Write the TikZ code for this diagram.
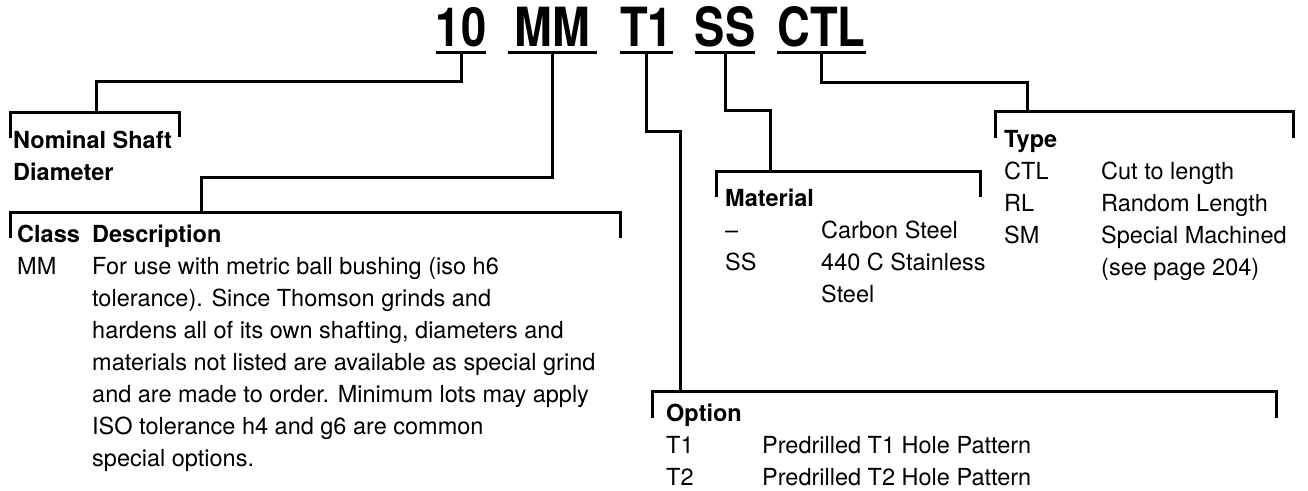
\documentclass[tikz,border=0pt]{standalone}
\usepackage{fontspec}
\setmainfont{TeX Gyre Heros}
\newfontfamily\titlefam[FakeStretch=0.84]{TeX Gyre Heros}
\usepackage{tikz}

\newcommand\bodyfont{\fontsize{23.5}{32}\selectfont}
\newcommand\titlefont{\titlefam\bfseries\fontsize{54}{60}\selectfont}

\tikzset{
	ttl/.style={anchor=south, inner xsep=0pt, inner ysep=5pt, font=\titlefont},
	lbl/.style={anchor=base west, inner sep=0pt, font=\bodyfont},
	brk/.style={line width=3pt, black}
}

\begin{document}
\begin{tikzpicture}[x=1pt,y=-1pt]
	\useasboundingbox (0,0) rectangle (1308,490);

	% part number
	\node [name=t10, ttl, minimum width=46] at (461,52) {10};
	\node [name=tMM, ttl, minimum width=89] at (552.5,52) {MM};
	\node [name=tT1, ttl, minimum width=49] at (646.5,52) {T1};
	\node [name=tSS, ttl, minimum width=58] at (725,52) {SS};
	\node [name=tCTL, ttl, minimum width=87] at (821.5,52) {CTL};

	\draw [brk] (t10.south west) -- (t10.south east);
	\draw [brk] (tMM.south west) -- (tMM.south east);
	\draw [brk] (tT1.south west) -- (tT1.south east);
	\draw [brk] (tSS.south west) -- (tSS.south east);
	\draw [brk] (tCTL.south west) -- (tCTL.south east);

	% bracket tops
	\coordinate (nomtop) at (96,112);
	\coordinate (classtop) at (201,212);
	\coordinate (opttop) at (680,391);
	\coordinate (mattop) at (770,171);
	\coordinate (typetop) at (1027,111);

	\draw [brk] (10,138) |- (179,112) -- (179,137);
	\draw [brk] (10,238) |- (620,212) -- (620,238);
	\draw [brk] (652,418) |- (1276,391) -- (1276,418);
	\draw [brk] (716,197) |- (980,171) -- (980,197);
	\draw [brk] (995,138) |- (1293,111) -- (1293,138);

	\draw [brk] (t10.south) -- ++(0,29) -| (nomtop);
	\draw [brk] (tMM.south) -- ++(0,125) -| (classtop);
	\draw [brk] (tT1.south) -- ++(0,79) -| (opttop);
	\draw [brk] (tSS.south) -- ++(0,58) -| (mattop);
	\draw [brk] (tCTL.south) -- ++(0,30) -| (typetop);

	% texts
	\node [name=nominal, lbl] at (13,148) {\begin{tabular}[t]{@{}l@{}}
		\textbf{Nominal Shaft}\\
		\textbf{Diameter}
	\end{tabular}};

	\node [name=classtab, lbl] at (17,242) {\begin{tabular}[t]{@{}p{75pt}@{}l@{}}
		\textbf{Class} & \textbf{Description}\\
		MM & For use with metric ball bushing (iso h6\\
		& tolerance). Since Thomson grinds and\\
		& hardens all of its own shafting, diameters and\\
		& materials not listed are available as special grind\\
		& and are made to order. Minimum lots may apply\\
		& ISO tolerance h4 and g6 are common\\
		& special options.
	\end{tabular}};

	\node [name=mattab, lbl] at (725,206) {\begin{tabular}[t]{@{}p{96pt}@{}l@{}}
		\textbf{Material} & \\
		-- & Carbon Steel\\
		SS & 440 C Stainless\\
		& Steel
	\end{tabular}};

	\node [name=typetab, lbl] at (1004,147) {\begin{tabular}[t]{@{}p{97pt}@{}l@{}}
		\textbf{Type} & \\
		CTL & Cut to length\\
		RL & Random Length\\
		SM & Special Machined\\
		& (see page 204)
	\end{tabular}};

	\node [name=opttab, lbl] at (666,421) {\begin{tabular}[t]{@{}p{96pt}@{}l@{}}
		\textbf{Option} & \\
		T1 & Predrilled T1 Hole Pattern\\
		T2 & Predrilled T2 Hole Pattern
	\end{tabular}};

\end{tikzpicture}
\end{document}
